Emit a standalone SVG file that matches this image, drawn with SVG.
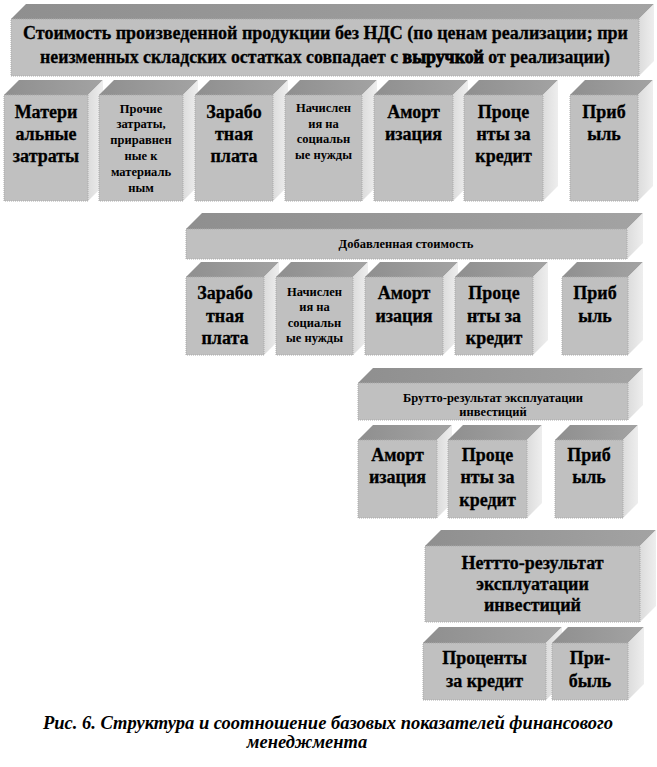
<svg xmlns="http://www.w3.org/2000/svg" width="657" height="767" viewBox="0 0 657 767" font-family="'Liberation Serif', 'DejaVu Serif', serif">
<defs>
<linearGradient id="gTop" x1="0" y1="0" x2="1" y2="0">
<stop offset="0" stop-color="#8f8f8f"/><stop offset="1" stop-color="#a3a3a3"/>
</linearGradient>
<linearGradient id="gSide" x1="0" y1="0" x2="1" y2="0">
<stop offset="0" stop-color="#dcdcdc"/><stop offset="1" stop-color="#eeeeee"/>
</linearGradient>
<style>
.front{fill:#c0c0c0;stroke:#aaaaaa;stroke-width:1;stroke-dasharray:1 1}
.top{fill:url(#gTop)}
.side{fill:url(#gSide)}
text{font-family:'Liberation Serif', 'DejaVu Serif', serif;font-weight:bold;fill:#000;text-anchor:middle}
.big{font-size:18px;stroke:#000;stroke-width:0.3}
.hd{font-size:18px;stroke:#000;stroke-width:0.3}
.sm{font-size:12.5px}
.cap{font-size:18.5px;font-style:italic}
</style>
</defs>
<rect width="657" height="767" fill="#ffffff"/>

<g id="header">
<polygon class="top" points="11,19 26,4 654,4 639,19"/>
<polygon class="side" points="639,19 654,4 654,61 639,76"/>
<rect class="front" x="11" y="19" width="628" height="57"/>
<text class="hd" x="325.5" y="39" textLength="605" lengthAdjust="spacingAndGlyphs">Стоимость произведенной продукции без НДС (по ценам реализации; при</text>
<text class="hd" x="325" y="63" textLength="570" lengthAdjust="spacingAndGlyphs">неизменных складских остатках совпадает с <tspan stroke-width="0.8">выручкой</tspan> от реализации)</text>
</g>

<g id="r1-materials">
<polygon class="top" points="4,95 19,80 103,80 88,95"/>
<polygon class="side" points="88,95 103,80 103,186 88,201"/>
<rect class="front" x="4" y="95" width="84" height="106"/>
<text class="big" x="46" y="118">Матери</text>
<text class="big" x="46" y="140">альные</text>
<text class="big" x="46" y="162">затраты</text>
</g>

<g id="r1-other">
<polygon class="top" points="99,95 114,80 198,80 183,95"/>
<polygon class="side" points="183,95 198,80 198,186 183,201"/>
<rect class="front" x="99" y="95" width="84" height="106"/>
<text class="sm" x="141" y="112.5">Прочие</text>
<text class="sm" x="141" y="128.3">затраты,</text>
<text class="sm" x="141" y="144.1">приравнен</text>
<text class="sm" x="141" y="159.9">ные к</text>
<text class="sm" x="141" y="175.7">материаль</text>
<text class="sm" x="141" y="191.5">ным</text>
</g>

<g id="r1-wages">
<polygon class="top" points="195,95 210,80 288,80 273,95"/>
<polygon class="side" points="273,95 288,80 288,186 273,201"/>
<rect class="front" x="195" y="95" width="78" height="106"/>
<text class="big" x="234" y="118">Зарабо</text>
<text class="big" x="234" y="140">тная</text>
<text class="big" x="234" y="162">плата</text>
</g>

<g id="r1-social">
<polygon class="top" points="285,95 300,80 377,80 362,95"/>
<polygon class="side" points="362,95 377,80 377,186 362,201"/>
<rect class="front" x="285" y="95" width="77" height="106"/>
<text class="sm" x="323.5" y="112">Начислен</text>
<text class="sm" x="323.5" y="127.5">ия на</text>
<text class="sm" x="323.5" y="143">социальн</text>
<text class="sm" x="323.5" y="158.5">ые нужды</text>
</g>

<g id="r1-amort">
<polygon class="top" points="374,95 389,80 468,80 453,95"/>
<polygon class="side" points="453,95 468,80 468,186 453,201"/>
<rect class="front" x="374" y="95" width="79" height="106"/>
<text class="big" x="413.5" y="118">Аморт</text>
<text class="big" x="413.5" y="140">изация</text>
</g>

<g id="r1-interest">
<polygon class="top" points="464,95 479,80 558,80 543,95"/>
<polygon class="side" points="543,95 558,80 558,186 543,201"/>
<rect class="front" x="464" y="95" width="79" height="106"/>
<text class="big" x="503.5" y="118">Проце</text>
<text class="big" x="503.5" y="140">нты за</text>
<text class="big" x="503.5" y="162">кредит</text>
</g>

<g id="r1-profit">
<polygon class="top" points="570,95 585,80 653,80 638,95"/>
<polygon class="side" points="638,95 653,80 653,186 638,201"/>
<rect class="front" x="570" y="95" width="68" height="106"/>
<text class="big" x="604" y="118">Приб</text>
<text class="big" x="604" y="140">ыль</text>
</g>

<g id="added-value">
<polygon class="top" points="186,229 202,213 643,213 627,229"/>
<polygon class="side" points="627,229 643,213 643,243 627,259"/>
<rect class="front" x="186" y="229" width="441" height="30"/>
<text class="sm" x="406" y="248">Добавленная стоимость</text>
</g>

<g id="r2-wages">
<polygon class="top" points="186,277 201,262 279,262 264,277"/>
<polygon class="side" points="264,277 279,262 279,340 264,355"/>
<rect class="front" x="186" y="277" width="78" height="78"/>
<text class="big" x="225" y="299">Зарабо</text>
<text class="big" x="225" y="321.5">тная</text>
<text class="big" x="225" y="344">плата</text>
</g>

<g id="r2-social">
<polygon class="top" points="276,277 291,262 368,262 353,277"/>
<polygon class="side" points="353,277 368,262 368,340 353,355"/>
<rect class="front" x="276" y="277" width="77" height="78"/>
<text class="sm" x="314.5" y="295.5">Начислен</text>
<text class="sm" x="314.5" y="311">ия на</text>
<text class="sm" x="314.5" y="326.5">социальн</text>
<text class="sm" x="314.5" y="342">ые нужды</text>
</g>

<g id="r2-amort">
<polygon class="top" points="365,277 380,262 458,262 443,277"/>
<polygon class="side" points="443,277 458,262 458,340 443,355"/>
<rect class="front" x="365" y="277" width="78" height="78"/>
<text class="big" x="404" y="299">Аморт</text>
<text class="big" x="404" y="321.5">изация</text>
</g>

<g id="r2-interest">
<polygon class="top" points="455,277 470,262 548,262 533,277"/>
<polygon class="side" points="533,277 548,262 548,340 533,355"/>
<rect class="front" x="455" y="277" width="78" height="78"/>
<text class="big" x="494" y="299">Проце</text>
<text class="big" x="494" y="321.5">нты за</text>
<text class="big" x="494" y="344">кредит</text>
</g>

<g id="r2-profit">
<polygon class="top" points="562,277 577,262 643,262 628,277"/>
<polygon class="side" points="628,277 643,262 643,340 628,355"/>
<rect class="front" x="562" y="277" width="66" height="78"/>
<text class="big" x="595" y="299">Приб</text>
<text class="big" x="595" y="321.5">ыль</text>
</g>

<g id="gross-result">
<polygon class="top" points="358,383 373,368 643,368 628,383"/>
<polygon class="side" points="628,383 643,368 643,405 628,420"/>
<rect class="front" x="358" y="383" width="270" height="37"/>
<text class="sm" x="493" y="401.5">Брутто-результат  эксплуатации</text>
<text class="sm" x="493" y="415.5">инвестиций</text>
</g>

<g id="r3-amort">
<polygon class="top" points="358,440 373,425 452,425 437,440"/>
<polygon class="side" points="437,440 452,425 452,503 437,518"/>
<rect class="front" x="358" y="440" width="79" height="78"/>
<text class="big" x="397.5" y="461">Аморт</text>
<text class="big" x="397.5" y="483">изация</text>
</g>

<g id="r3-interest">
<polygon class="top" points="448,440 463,425 542,425 527,440"/>
<polygon class="side" points="527,440 542,425 542,503 527,518"/>
<rect class="front" x="448" y="440" width="79" height="78"/>
<text class="big" x="487.5" y="461">Проце</text>
<text class="big" x="487.5" y="483">нты за</text>
<text class="big" x="487.5" y="506">кредит</text>
</g>

<g id="r3-profit">
<polygon class="top" points="555,440 570,425 638,425 623,440"/>
<polygon class="side" points="623,440 638,425 638,503 623,518"/>
<rect class="front" x="555" y="440" width="68" height="78"/>
<text class="big" x="589" y="461">Приб</text>
<text class="big" x="589" y="483">ыль</text>
</g>

<g id="net-result">
<polygon class="top" points="425,546 441,530 656,530 640,546"/>
<polygon class="side" points="640,546 656,530 656,606 640,622"/>
<rect class="front" x="425" y="546" width="215" height="76"/>
<text class="big" x="532.5" y="569">Неттто-результат</text>
<text class="big" x="532.5" y="590">эксплуатации</text>
<text class="big" x="532.5" y="611">инвестиций</text>
</g>

<g id="r4-interest">
<polygon class="top" points="423,643 439,627 562,627 546,643"/>
<polygon class="side" points="546,643 562,627 562,684 546,700"/>
<rect class="front" x="423" y="643" width="123" height="57"/>
<text class="big" x="484.5" y="664">Проценты</text>
<text class="big" x="484.5" y="687">за кредит</text>
</g>

<g id="r4-profit">
<polygon class="top" points="552,643 568,627 644,627 628,643"/>
<polygon class="side" points="628,643 644,627 644,684 628,700"/>
<rect class="front" x="552" y="643" width="76" height="57"/>
<text class="big" x="590" y="664">При-</text>
<text class="big" x="590" y="687">быль</text>
</g>

<g id="connectors"/>

<g id="caption">
<text class="cap" x="328" y="729">Рис. 6. Структура и соотношение базовых показателей финансового</text>
<text class="cap" x="307" y="748">менеджмента</text>
</g>
</svg>
